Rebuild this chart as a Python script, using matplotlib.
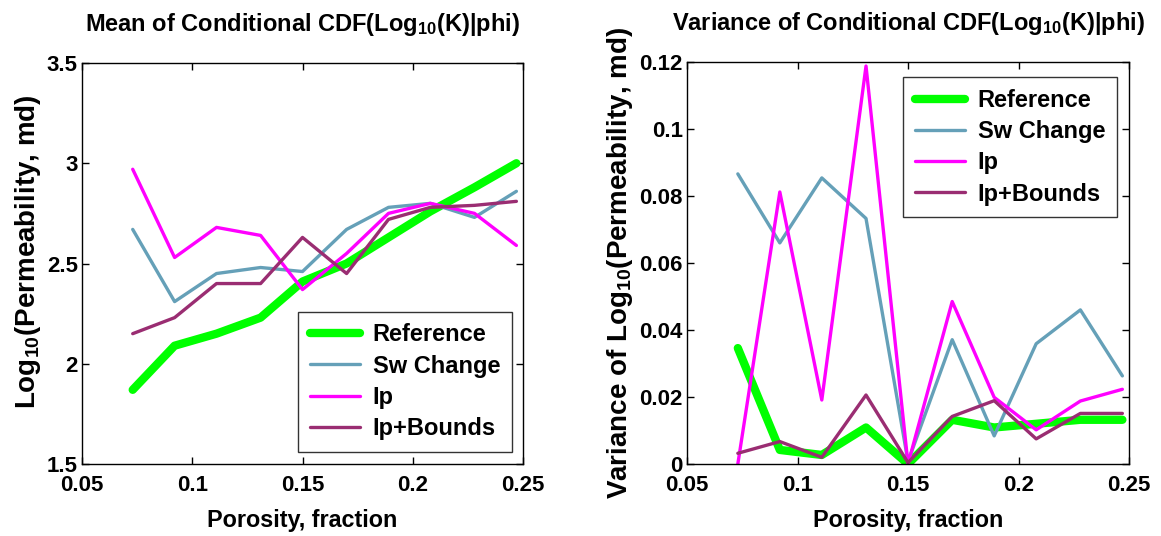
import matplotlib
matplotlib.use("Agg")
import matplotlib.pyplot as plt

plt.rcParams['font.family'] = ['Liberation Sans', 'DejaVu Sans']
plt.rcParams['font.weight'] = 'bold'
plt.rcParams['mathtext.fontset'] = 'custom'
plt.rcParams['mathtext.rm'] = 'Liberation Sans:bold'
plt.rcParams['mathtext.default'] = 'regular'

# Porosity bin centres
porosity = [0.073, 0.092, 0.111, 0.131, 0.150, 0.170, 0.189, 0.208, 0.228, 0.247]

# Mean of conditional CDF (log10 permeability)
mean_reference = [1.87, 2.09, 2.15, 2.23, 2.41, 2.50, 2.63, 2.76, 2.88, 3.00]
mean_sw_change = [2.67, 2.31, 2.45, 2.48, 2.46, 2.67, 2.78, 2.80, 2.73, 2.86]
mean_ip = [2.97, 2.53, 2.68, 2.64, 2.37, 2.55, 2.75, 2.80, 2.75, 2.59]
mean_ip_bounds = [2.15, 2.23, 2.40, 2.40, 2.63, 2.45, 2.72, 2.78, 2.79, 2.81]

# Variance of conditional CDF
var_reference = [0.0346, 0.0042, 0.0027, 0.0109, 0.0000, 0.0132, 0.0109, 0.0120, 0.0132, 0.0132]
var_sw_change = [0.0866, 0.0660, 0.0854, 0.0733, 0.0007, 0.0371, 0.0084, 0.0359, 0.0460, 0.0263]
var_ip = [0.0000, 0.0812, 0.0191, 0.1188, 0.0000, 0.0485, 0.0199, 0.0102, 0.0188, 0.0223]
var_ip_bounds = [0.0032, 0.0067, 0.0020, 0.0206, 0.0004, 0.0142, 0.0189, 0.0075, 0.0151, 0.0151]

labels = ['Reference', 'Sw Change', 'Ip', 'Ip+Bounds']
colors = ['#00FF00', '#65A0B8', '#FF00FF', '#9A2D72']
widths = [6.0, 2.4, 2.4, 2.4]

x_ticks = [0.05, 0.1, 0.15, 0.2, 0.25]
x_ticklabels = ['0.05', '0.1', '0.15', '0.2', '0.25']
mean_yticks = [1.5, 2, 2.5, 3, 3.5]
mean_yticklabels = ['1.5', '2', '2.5', '3', '3.5']
var_yticks = [0, 0.02, 0.04, 0.06, 0.08, 0.1, 0.12]
var_yticklabels = ['0', '0.02', '0.04', '0.06', '0.08', '0.1', '0.12']

W, H = 1161, 536
fig = plt.figure(figsize=(W / 100, H / 100), dpi=100)
ax1 = fig.add_axes([82 / W, 1 - 464 / H, 441 / W, 401 / H])
ax2 = fig.add_axes([687 / W, 1 - 464 / H, 442 / W, 402 / H])

TICK_FS = 16
TITLE_FS = 17
XLABEL_FS = 16.8
YLABEL_FS = 20
LEGEND_FS = 17


def draw(ax, series, yticks, yticklabels, ylim, title, ylabel, ylabel_xy,
         legend_loc, legend_anchor):
    for vals, lab, col, lw in zip(series, labels, colors, widths):
        ax.plot(porosity, vals, color=col, lw=lw, label=lab,
                solid_capstyle='round', solid_joinstyle='round')
    ax.set_xlim(0.05, 0.25)
    ax.set_ylim(*ylim)
    ax.set_xticks(x_ticks)
    ax.set_xticklabels(x_ticklabels)
    ax.set_yticks(yticks)
    ax.set_yticklabels(yticklabels)
    ax.tick_params(direction='in', length=5, width=1, top=True, right=True,
                   labelsize=TICK_FS)
    ax.tick_params(axis='x', pad=8)
    ax.tick_params(axis='y', pad=3)
    for t in ax.get_xticklabels() + ax.get_yticklabels():
        t.set_fontweight('bold')
    for sp in ax.spines.values():
        sp.set_linewidth(1.0)
    ax.set_title(title, fontsize=TITLE_FS, fontweight='bold', pad=23)
    ax.set_xlabel('Porosity, fraction', fontsize=XLABEL_FS, fontweight='bold',
                  labelpad=9)
    ax.set_ylabel(ylabel, fontsize=YLABEL_FS, fontweight='bold')
    ax.yaxis.set_label_coords(*ylabel_xy)
    leg = ax.legend(loc=legend_loc, bbox_to_anchor=legend_anchor,
                    fontsize=LEGEND_FS, frameon=True, fancybox=False,
                    edgecolor='black', handlelength=2.1, handletextpad=0.55,
                    labelspacing=0.35, borderpad=0.5, borderaxespad=0)
    leg.get_frame().set_linewidth(1.0)
    for t in leg.get_texts():
        t.set_fontweight('bold')


draw(ax1, [mean_reference, mean_sw_change, mean_ip, mean_ip_bounds],
     mean_yticks, mean_yticklabels, (1.5, 3.5),
     'Mean of Conditional CDF(Log$_{10}$(K)|phi)',
     'Log$_{10}$(Permeability, md)', (-0.088, 0.53),
     'lower right', ((512 - 82) / 441, (464 - 452) / 401))

draw(ax2, [var_reference, var_sw_change, var_ip, var_ip_bounds],
     var_yticks, var_yticklabels, (0, 0.12),
     'Variance of Conditional CDF(Log$_{10}$(K)|phi)',
     'Variance of Log$_{10}$(Permeability, md)', (-0.118, 0.5),
     'upper right', ((1117 - 687) / 442, (464 - 77) / 402))

fig.savefig('out.png', dpi=100, facecolor='white')
